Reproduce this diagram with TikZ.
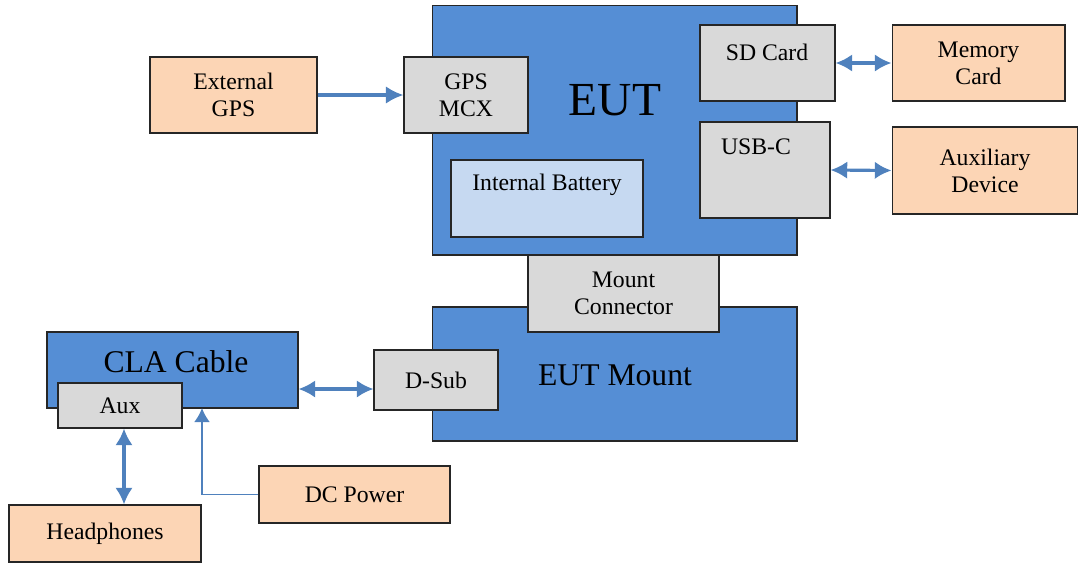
\documentclass[tikz,border=0pt]{standalone}
\usepackage{fontspec}
\setmainfont{Liberation Serif}
\usetikzlibrary{arrows.meta}

\definecolor{eutblue}{RGB}{85,142,213}
\definecolor{arrowblue}{RGB}{79,129,189}
\definecolor{peach}{RGB}{252,213,181}
\definecolor{greybox}{RGB}{217,217,217}
\definecolor{battblue}{RGB}{198,217,241}

\tikzset{
  box/.style={draw=black!85, line width=0.6pt, inner sep=0pt, align=center,
    font=\fontsize{13.5}{15.5}\selectfont},
  bluebox/.style={box, fill=eutblue},
  greyport/.style={box, fill=greybox},
  peachbox/.style={box, fill=peach},
  battbox/.style={box, fill=battblue},
  txt/.style={inner sep=0pt, align=center, font=\fontsize{13.5}{15.5}\selectfont},
  link/.style={draw=arrowblue, line width=1.8pt, -{Latex[length=10pt,width=10pt]}},
  duplex/.style={draw=arrowblue, line width=1.8pt,
    {Latex[length=9.5pt,width=10pt]}-{Latex[length=9.5pt,width=10pt]}},
  feed/.style={draw=arrowblue, line width=1pt, -{Latex[length=8pt,width=9pt]}}
}

\begin{document}
\begin{tikzpicture}[x=0.02cm, y=-0.02cm]
\useasboundingbox (0,0) rectangle (1078,562);

%%%%%EUT AND MOUNT%%%%%%%%%
\node[bluebox, minimum width=7.3cm, minimum height=5cm] (eut) at (614.5,130) {};
\node[txt, font=\fontsize{27}{30}\selectfont] (euttxt) at (615,100) {EUT};
\node[bluebox, minimum width=7.3cm, minimum height=2.68cm] (eutmount) at (614.5,374) {};
\node[txt, font=\fontsize{18}{20}\selectfont] (mounttxt) at (615,375) {EUT Mount};
\node[greyport, minimum width=3.82cm, minimum height=1.54cm] (mountconn) at (623.5,293.5) {Mount\\Connector};

%%%%%PORTS ON EUT%%%%%%%
\node[greyport, minimum width=2.48cm, minimum height=1.52cm] (gpsmcx) at (466,95) {GPS\\MCX};
\node[greyport, minimum width=2.7cm, minimum height=1.52cm] (sdcard) at (767.5,63) {};
\node[txt] (sdtxt) at (767,52) {SD Card};
\node[greyport, minimum width=2.6cm, minimum height=1.92cm] (usbc) at (765,170) {};
\node[txt] (usbtxt) at (756,147) {USB-C};
\node[battbox, minimum width=3.84cm, minimum height=1.54cm] (battery) at (547,198.5) {};
\node[txt] (batttxt) at (547,185) {Internal Battery};
\node[greyport, minimum width=2.48cm, minimum height=1.2cm] (dsub) at (436,380) {D-Sub};

%%%%%CABLE%%%%%%%
\node[bluebox, minimum width=5.02cm, minimum height=1.52cm] (cla) at (172.5,370) {};
\node[txt, font=\fontsize{18}{20}\selectfont] (clatxt) at (176,362) {CLA Cable};
\node[greyport, minimum width=2.48cm, minimum height=0.9cm] (aux) at (120,405.5) {Aux};

%%%%%OUTSIDE DEVICES%%%%%%%
\node[peachbox, minimum width=3.34cm, minimum height=1.52cm] (extgps) at (233.5,95) {External\\GPS};
\node[peachbox, minimum width=3.46cm, minimum height=1.52cm] (memcard) at (978.5,63) {Memory\\Card};
\node[peachbox, minimum width=3.72cm, minimum height=1.74cm] (auxdev) at (985,170.5) {Auxiliary\\Device};
\node[peachbox, minimum width=3.84cm, minimum height=1.14cm] (phones) at (105,533.5) {Headphones};
\node[peachbox, minimum width=3.82cm, minimum height=1.14cm] (dcpower) at (354.5,494.5) {DC Power};

%%%%%CONNECTIONS%%%%%%%
\draw[link] (extgps.east) -- (gpsmcx.west);
\draw[duplex] (sdcard.east) -- (memcard.west);
\draw[duplex] (usbc.east) -- (auxdev.west);
\draw[duplex] ([yshift=-0.18cm]dsub.west -| cla.east) -- ([yshift=-0.18cm]dsub.west);
\draw[duplex] ([xshift=0.08cm]aux.south) -- ([xshift=0.08cm]aux.south |- phones.north);
\coordinate (dcin) at (202,408);
\draw[feed] (dcpower.west) -| (dcin);

\end{tikzpicture}
\end{document}
